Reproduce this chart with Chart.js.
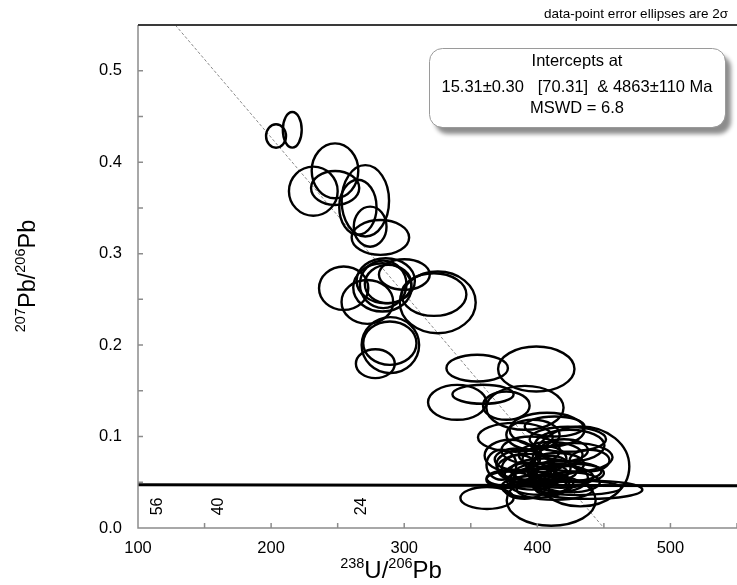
<!DOCTYPE html>
<html>
<head>
<meta charset="utf-8">
<script src="https://cdn.jsdelivr.net/npm/chart.js@4.4.1/dist/chart.umd.min.js"></script>
<style>
  html, body { margin: 0; padding: 0; background: #fff; }
  canvas { display: block; }
</style>
</head>
<body>
<canvas id="teraW" width="737" height="585"></canvas>
<script>
// spot analyses: 238U/206Pb, 207Pb/206Pb and their 2-sigma half widths
const ratioU = [203.7, 215.9, 248.0, 231.7, 248.1, 270.8, 265.2, 274.4, 282.1,
  254.5, 272.3, 283.6, 286.1, 284.2, 287.9, 300.1, 325.2, 322.3, 289.6, 289.2, 278.3,
  354.8, 399.2, 339.8, 359.2, 376.7, 390.7, 362.2, 432.3, 410.4, 438.9,
  383.5, 379.8, 378.6, 389.2, 396.7, 413.0, 424.2, 428.0, 439.2, 420.4, 413.0,
  394.2, 401.7, 390.4, 405.4, 386.7, 417.0, 373.0,
  407.3, 422.9, 381.8, 395.0, 405.0, 415.0, 400.0, 425.0, 410.0, 385.0, 420.0,
  398.0, 430.0, 392.0, 412.0, 430.0, 403.0, 418.0, 396.0, 409.0]
const ratioPb = [0.4286, 0.4354, 0.3906, 0.3683, 0.3718, 0.3578, 0.3508, 0.3295, 0.3177,
  0.2622, 0.2472, 0.2631, 0.2704, 0.2664, 0.2667, 0.2771, 0.2467, 0.2552, 0.2000, 0.2021, 0.1797,
  0.1748, 0.1738, 0.1374, 0.1462, 0.1338, 0.1314, 0.0328, 0.0673, 0.0300, 0.0418,
  0.0992, 0.0792, 0.0528, 0.0692, 0.1019, 0.1110, 0.0901, 0.0773, 0.0737, 0.0618, 0.0418,
  0.0583, 0.0473, 0.0418, 0.0754, 0.0645, 0.0547, 0.0692,
  0.1074, 0.0970, 0.0544, 0.0850, 0.0630, 0.0700, 0.0550, 0.0500, 0.0800, 0.0750, 0.0850,
  0.0450, 0.0600, 0.0650, 0.0480, 0.0440, 0.0600, 0.0560, 0.0520, 0.0660]
const errU = [7.5, 7.1, 17.5, 18.3, 18.1, 17.8, 14.0, 12.3, 21.6,
  18.5, 19.4, 21.9, 21.9, 17.5, 17.5, 19.1, 28.5, 24.4, 21.6, 20.0, 14.6,
  23.1, 28.7, 21.9, 23.0, 17.5, 29.0, 20.0, 36.8, 33.4, 40.0,
  28.1, 19.4, 16.9, 20.0, 20.0, 22.5, 26.2, 28.5, 15.0, 27.7, 28.5,
  18.7, 22.5, 15.0, 16.5, 13.5, 21.0, 11.2,
  28.1, 28.7, 19.9, 22.0, 25.0, 20.0, 18.0, 22.0, 24.0, 17.0, 18.0,
  25.0, 20.0, 22.0, 15.0, 33.0, 20.0, 24.0, 19.0, 16.0]
const errPb = [0.0128, 0.0195, 0.0300, 0.0268, 0.0186, 0.0390, 0.0300, 0.0219, 0.0190,
  0.0237, 0.0240, 0.0264, 0.0246, 0.0260, 0.0210, 0.0167, 0.0337, 0.0233, 0.0306, 0.0237, 0.0158,
  0.0146, 0.0246, 0.0191, 0.0104, 0.0155, 0.0240, 0.0120, 0.0437, 0.0275, 0.0100,
  0.0158, 0.0173, 0.0090, 0.0164, 0.0164, 0.0110, 0.0173, 0.0155, 0.0118, 0.0110, 0.0110,
  0.0130, 0.0110, 0.0098, 0.0142, 0.0153, 0.0153, 0.0164,
  0.0186, 0.0137, 0.0093, 0.0150, 0.0130, 0.0120, 0.0100, 0.0110, 0.0140, 0.0120, 0.0120,
  0.0120, 0.0100, 0.0160, 0.0100, 0.0080, 0.0110, 0.0120, 0.0100, 0.0130]

// concordia (nearly flat here) and its age marks in Ma
const concordiaX = [100, 550]
const concordiaY = [0.0472, 0.0462]
const ageLabels = ['56', '40', '24']
const ageX = [114.6, 160.6, 268.1]
const ageY = 0.0236

// regression line through the data
const discordiaX = [128, 450]
const discordiaY = [0.55, 0]

const resultLines = ['Intercepts at', '15.31\u00b10.30   [70.31]  & 4863\u00b1110 Ma', 'MSWD = 6.8']

const FONT = '"Liberation Sans", Arial, sans-serif'
Chart.defaults.font.family = FONT

const spots = ratioU.map((u, i) => ({ x: u, y: ratioPb[i], ex: errU[i], ey: errPb[i] }))

// draws a text with superscript parts: [[text, isSup], ...]
function supText(ctx, parts, big, small) {
  let w = 0
  parts.forEach(p => {
    ctx.font = (p[1] ? small : big) + 'px ' + FONT
    w += ctx.measureText(p[0]).width
  })
  let x = -w / 2
  parts.forEach(p => {
    ctx.font = (p[1] ? small : big) + 'px ' + FONT
    ctx.fillText(p[0], x, p[1] ? -big * 0.42 : 0)
    x += ctx.measureText(p[0]).width
  })
}

const isoplot = {
  id: 'isoplot',
  afterDatasetsDraw(chart) {
    const { ctx, chartArea: a, scales: { x, y } } = chart
    ctx.save()
    ctx.beginPath()
    ctx.rect(a.left, a.top, a.right - a.left, a.bottom - a.top)
    ctx.clip()
    ctx.strokeStyle = '#000'
    ctx.lineWidth = 2.4
    chart.data.datasets[2].data.forEach(p => {
      const cx = x.getPixelForValue(p.x)
      const cy = y.getPixelForValue(p.y)
      const rx = Math.abs(x.getPixelForValue(p.x + p.ex) - cx)
      const ry = Math.abs(y.getPixelForValue(p.y + p.ey) - cy)
      ctx.beginPath()
      ctx.ellipse(cx, cy, rx, ry, 0, 0, Math.PI * 2)
      ctx.stroke()
    })
    ctx.restore()
  },
  afterDraw(chart) {
    const { ctx, chartArea: a, scales: { x, y } } = chart
    ctx.save()

    // axes with inward ticks
    ctx.strokeStyle = '#8c8c8c'
    ctx.lineWidth = 1.5
    ctx.beginPath()
    ctx.moveTo(a.left, a.top)
    ctx.lineTo(a.left, a.bottom)
    ctx.lineTo(a.right, a.bottom)
    for (let v = 100; v <= 550; v += 50) {
      const px = x.getPixelForValue(v)
      ctx.moveTo(px, a.bottom)
      ctx.lineTo(px, a.bottom - 5)
    }
    for (let v = 0; v <= 0.551; v += 0.05) {
      const py = y.getPixelForValue(v)
      ctx.moveTo(a.left, py)
      ctx.lineTo(a.left + 5, py)
    }
    ctx.stroke()

    ctx.strokeStyle = '#3a3a3a'
    ctx.lineWidth = 2
    ctx.beginPath()
    ctx.moveTo(a.left, a.top)
    ctx.lineTo(a.right, a.top)
    ctx.stroke()

    // concordia age labels
    ctx.fillStyle = '#000'
    ctx.font = '16px ' + FONT
    ctx.textAlign = 'center'
    ctx.textBaseline = 'middle'
    ageLabels.forEach((t, i) => {
      ctx.save()
      ctx.translate(x.getPixelForValue(ageX[i]), y.getPixelForValue(ageY))
      ctx.rotate(-Math.PI / 2)
      ctx.fillText(t, 0, 0)
      ctx.restore()
    })

    // result box
    ctx.save()
    ctx.shadowColor = 'rgba(0,0,0,0.45)'
    ctx.shadowBlur = 4
    ctx.shadowOffsetX = 6
    ctx.shadowOffsetY = 7
    ctx.fillStyle = '#fff'
    ctx.beginPath()
    ctx.roundRect(429, 48, 296, 79, 13)
    ctx.fill()
    ctx.restore()
    ctx.strokeStyle = '#9a9a9a'
    ctx.lineWidth = 1
    ctx.beginPath()
    ctx.roundRect(429.5, 48.5, 296, 79, 13)
    ctx.stroke()
    ctx.fillStyle = '#000'
    ctx.font = '16.5px ' + FONT
    ctx.textBaseline = 'alphabetic'
    ctx.fillText(resultLines[0], 577, 66)
    ctx.fillText(resultLines[1], 577, 92)
    ctx.fillText(resultLines[2], 577, 112.5)

    ctx.textAlign = 'right'
    ctx.font = '13.5px ' + FONT
    ctx.fillText('data-point error ellipses are 2\u03c3', 728, 18)

    // axis titles
    ctx.textAlign = 'left'
    ctx.save()
    ctx.translate(391, 578)
    supText(ctx, [['238', true], ['U/', false], ['206', true], ['Pb', false]], 24, 14.5)
    ctx.restore()
    ctx.save()
    ctx.translate(35, 276)
    ctx.rotate(-Math.PI / 2)
    supText(ctx, [['207', true], ['Pb/', false], ['206', true], ['Pb', false]], 23.5, 14.5)
    ctx.restore()

    ctx.restore()
  }
}

new Chart(document.getElementById('teraW'), {
  type: 'scatter',
  data: {
    datasets: [
      {
        type: 'line',
        data: discordiaX.map((v, i) => ({ x: v, y: discordiaY[i] })),
        borderColor: '#8a8a8a',
        borderWidth: 1,
        borderDash: [3, 2],
        pointRadius: 0
      },
      {
        type: 'line',
        data: concordiaX.map((v, i) => ({ x: v, y: concordiaY[i] })),
        borderColor: '#000',
        borderWidth: 3,
        pointRadius: 0
      },
      {
        data: spots,
        pointRadius: 0,
        pointHoverRadius: 0
      }
    ]
  },
  options: {
    responsive: false,
    animation: false,
    events: [],
    layout: { padding: { top: 25, right: 0, left: 0, bottom: 0 } },
    plugins: { legend: { display: false }, tooltip: { enabled: false } },
    scales: {
      x: {
        type: 'linear',
        min: 100,
        max: 550,
        afterFit: s => { s.height = 57; s.paddingLeft = 0; s.paddingRight = 0 },
        grid: { display: false, drawTicks: false },
        border: { display: false },
        ticks: {
          stepSize: 100,
          autoSkip: false,
          maxRotation: 0,
          padding: 11,
          color: '#000',
          font: { size: 16.5 },
          callback: v => (v % 100 === 0 ? String(v) : '')
        }
      },
      y: {
        min: 0,
        max: 0.55,
        afterFit: s => { s.width = 138; s.paddingTop = 0; s.paddingBottom = 0 },
        grid: { display: false, drawTicks: false },
        border: { display: false },
        ticks: {
          stepSize: 0.1,
          padding: 16,
          color: '#000',
          font: { size: 16.5 },
          callback: v => (Math.abs(v * 10 - Math.round(v * 10)) < 1e-6 ? v.toFixed(1) : '')
        }
      }
    }
  },
  plugins: [isoplot]
})
</script>
</body>
</html>
